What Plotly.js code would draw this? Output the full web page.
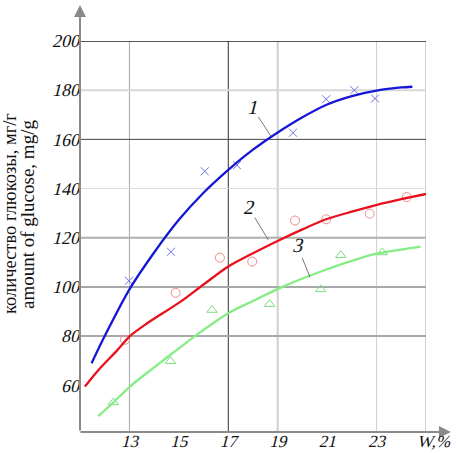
<!DOCTYPE html>
<html>
<head>
<meta charset="utf-8">
<script src="https://cdn.plot.ly/plotly-3.0.1.min.js"></script>
<style>html,body{margin:0;padding:0;background:#fff;}#chart{width:456px;height:453px;}</style>
</head>
<body>
<div id="chart"></div>
<script>
// Fitted curves
const curve1X = [11.47, 12, 13, 14, 15, 16, 17, 18, 19, 20, 21, 22, 23, 24, 24.45];
const curve1Y = [69, 80, 99, 114, 127.3, 138.3, 147.6, 155.8, 162.8, 169, 174.2, 177.6, 179.8, 181.1, 181.4];
const curve2X = [11.2, 11.81, 12.5, 13.02, 13.69, 15.04, 16, 17, 18, 19.08, 20, 20.96, 22, 22.98, 24, 25];
const curve2Y = [59.5, 66.9, 74.2, 80, 85, 93.8, 101, 108.3, 113.7, 119.1, 123.4, 127.5, 130.6, 133.3, 135.7, 137.8];
const curve3X = [11.74, 12.35, 13.02, 14, 15, 15.65, 17, 18, 19.08, 20, 21, 22, 23, 24, 24.78];
const curve3Y = [47.5, 53, 59.5, 67.3, 75, 80, 89.3, 94.3, 99.5, 103.4, 107.2, 110.6, 113.5, 115.2, 116.4];

// Experimental points
const pts1X = [12.98, 14.68, 16.05, 17.35, 19.62, 20.96, 22.1, 22.94];
const pts1Y = [102.5, 114.3, 147, 149.5, 162.7, 176.3, 180, 176.6];
const pts2X = [12.82, 14.87, 16.66, 17.97, 19.7, 20.96, 22.72, 24.22];
const pts2Y = [78.5, 97.6, 111.9, 110.3, 127, 127.5, 129.8, 136.5];
const pts3X = [12.35, 14.66, 16.34, 18.67, 20.74, 21.55, 23.23];
const pts3Y = [53, 69.8, 90.6, 93, 99, 112.9, 114];

// Ticks
const xTicks = [13, 15, 17, 19, 21, 23];
const yTicks = [60, 80, 100, 120, 140, 160, 180, 200];

// Curve labels
const labelText = ['1', '2', '3'];
const labelTipX = [18.72, 18.62, 20.31];
const labelTipY = [161.4, 119.1, 103.9];

const yTitle1 = 'количество глюкозы, мг/г';
const yTitle2 = 'amount of glucose, mg/g';
const xTitle = 'W,%';

const serif = 'Liberation Serif';

const traces = [
  {x: pts1X, y: pts1Y, mode: 'markers', type: 'scatter',
   marker: {symbol: 'x-thin-open', size: 8, line: {color: '#6f6fe6', width: 1}, color: '#6f6fe6'}},
  {x: pts2X, y: pts2Y, mode: 'markers', type: 'scatter',
   marker: {symbol: 'circle-open', size: 9, line: {color: '#f08a8a', width: 1}, color: '#f08a8a'}},
  {x: pts3X, y: pts3Y, mode: 'markers', type: 'scatter',
   marker: {symbol: 'triangle-up-open', size: 9, line: {color: '#7fdc7f', width: 1}, color: '#7fdc7f'}},
  {x: curve1X, y: curve1Y, mode: 'lines', type: 'scatter',
   line: {color: '#1616d8', width: 2.3, shape: 'spline', smoothing: 0.8}},
  {x: curve2X, y: curve2Y, mode: 'lines', type: 'scatter',
   line: {color: '#e8101c', width: 2.3, shape: 'spline', smoothing: 0.8}},
  {x: curve3X, y: curve3Y, mode: 'lines', type: 'scatter',
   line: {color: '#86ec86', width: 2.3, shape: 'spline', smoothing: 0.8}}
];

// grid lines (style per line, as in the figure)
const vGrid = [[13, '#a8a8a8', 1], [17, '#333333', 1], [19, '#cfcfcf', 2], [23, '#d0d0d0', 1], [25, '#a0a0a0', 1]];
const hGrid = [[80, '#a8a8a8', 2], [100, '#a8a8a8', 2], [120, '#b0b0b0', 2], [140, '#dcdcdc', 1], [160, '#444444', 1], [180, '#d8d8d8', 2], [200, '#222222', 1.5]];
const shapes = [];
vGrid.forEach(g => shapes.push({type: 'line', layer: 'below', xref: 'x', yref: 'y', x0: g[0], x1: g[0], y0: 41, y1: 200, line: {color: g[1], width: g[2]}}));
hGrid.forEach(g => shapes.push({type: 'line', layer: 'below', xref: 'x', yref: 'y', x0: 11, x1: 25, y0: g[0], y1: g[0], line: {color: g[1], width: g[2]}}));

const annotations = [];
// axes with arrows
annotations.push({xref: 'paper', yref: 'paper', x: 0, y: 1.092, ax: 0, ay: 427, text: '', showarrow: true,
  arrowhead: 2, arrowsize: 1.2, arrowwidth: 2, arrowcolor: '#8a8a8a'});
annotations.push({xref: 'paper', yref: 'paper', x: 1.072, y: 0, ax: -372, ay: 0, text: '', showarrow: true,
  arrowhead: 2, arrowsize: 1.2, arrowwidth: 2, arrowcolor: '#8a8a8a'});
// curve labels
const offs = [[-19, -29], [-20, -33], [-13, -32]];
labelText.forEach((t, i) => annotations.push({xref: 'x', yref: 'y', x: labelTipX[i], y: labelTipY[i],
  ax: offs[i][0], ay: offs[i][1], text: t, showarrow: true, arrowhead: 0, arrowwidth: 0.8, arrowcolor: '#555',
  standoff: 0, font: {family: serif, size: 20, color: '#111'}}));
// x title
annotations.push({xref: 'paper', yref: 'paper', x: 1.023, y: -0.024, text: xTitle, showarrow: false,
  xanchor: 'center', yanchor: 'middle', font: {family: serif, size: 17, color: '#111'}});
// y title (two lines)
annotations.push({xref: 'paper', yref: 'paper', x: (10 - 80) / 346, y: (432 - 214) / 391, text: yTitle1, showarrow: false,
  textangle: -90, xanchor: 'center', yanchor: 'middle', font: {family: serif, size: 18.5, color: '#111'}});
annotations.push({xref: 'paper', yref: 'paper', x: (27 - 80) / 346, y: (432 - 215) / 391, text: yTitle2, showarrow: false,
  textangle: -90, xanchor: 'center', yanchor: 'middle', font: {family: serif, size: 19, color: '#111'}});

const layout = {
  width: 456, height: 453,
  margin: {l: 80, r: 30, t: 41, b: 21, pad: 0},
  paper_bgcolor: '#fff', plot_bgcolor: '#fff',
  showlegend: false,
  font: {family: serif},
  xaxis: {range: [11, 25], tickvals: xTicks, ticktext: xTicks.map(String), showgrid: false, zeroline: false,
    showline: false, ticks: '', ticklabelstandoff: -3, tickfont: {family: serif, size: 17, color: '#111'}},
  yaxis: {range: [41, 200], tickvals: yTicks, ticktext: yTicks.map(String), showgrid: false, zeroline: false,
    showline: false, ticks: '', tickfont: {family: serif, size: 18, color: '#111'}},
  shapes: shapes,
  annotations: annotations
};

// slant the numeric labels (no italic serif face is available, so slant the upright one)
function slantTexts(gd) {
  const italicAnn = labelText.concat([xTitle]);
  gd.querySelectorAll('.xtick text, .ytick text, text.annotation-text').forEach(t => {
    if (t.classList.contains('annotation-text') && italicAnn.indexOf(t.textContent) < 0) return;
    const x = parseFloat(t.getAttribute('x')) || 0;
    const y = parseFloat(t.getAttribute('y')) || 0;
    const tr = t.getAttribute('transform') || '';
    t.setAttribute('transform', tr + ` translate(${x},${y}) skewX(-14) translate(${-x},${-y})`);
  });
}

Plotly.newPlot('chart', traces, layout, {displayModeBar: false, staticPlot: true}).then(slantTexts);
</script>
</body>
</html>
